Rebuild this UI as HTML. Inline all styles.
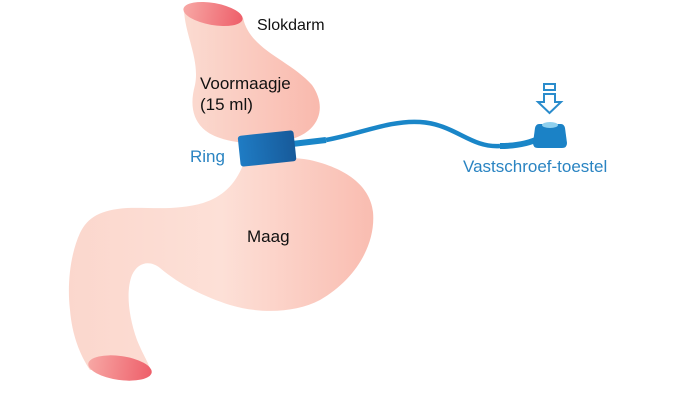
<!DOCTYPE html>
<html><head><style>body{margin:0;background:#fff}svg{display:block}text{font-family:"Liberation Sans",sans-serif}</style></head><body>
<svg width="680" height="400" viewBox="0 0 680 400">
<defs>
<linearGradient id="sk" x1="0" y1="0" x2="1" y2="0"><stop offset="0" stop-color="#fbdbd1"/><stop offset="1" stop-color="#f9b9ad"/></linearGradient>
<linearGradient id="sk2" gradientUnits="userSpaceOnUse" x1="68" y1="0" x2="375" y2="0"><stop offset="0" stop-color="#fbd7cd"/><stop offset="0.5" stop-color="#fde0d7"/><stop offset="1" stop-color="#f9bcb0"/></linearGradient>
<linearGradient id="op" x1="0" y1="0" x2="1" y2="0"><stop offset="0" stop-color="#f7a7a4"/><stop offset="1" stop-color="#ee5f6a"/></linearGradient>
<linearGradient id="rg" x1="0" y1="0" x2="1" y2="0"><stop offset="0" stop-color="#1f7cc4"/><stop offset="1" stop-color="#175a9a"/></linearGradient>
</defs>
<!-- stomach -->
<path d="M243 165 C265 158 290 156 310 160 C345 168 370 185 373 212 C376 245 355 280 320 300 C295 313 260 314 230 305 C205 297 180 285 160 268 C150 260 138 262 132 275 C126 290 128 315 137 340 C143 355 150 365 150 370 L90 370 C80 355 72 335 70 310 C67 285 70 255 80 233 C88 217 100 210 127 208 C150 207 175 211 203 203 C222 197 235 185 243 165 Z" fill="url(#sk2)"/>
<ellipse cx="120" cy="368" rx="32" ry="12" transform="rotate(8 120 368)" fill="url(#op)"/>
<!-- upper pouch -->
<path d="M184 10 C200 2 240 8 243 18 C250 50 290 60 312 85 C328 108 318 130 295 138 C270 145 240 145 220 138 C195 130 188 110 195 85 C200 60 185 35 184 10 Z" fill="url(#sk)"/>
<ellipse cx="213" cy="14" rx="30" ry="11" transform="rotate(10 213 14)" fill="url(#op)"/>
<!-- cable -->
<path d="M292 144 L326 140" stroke="#1a86c8" stroke-width="6" fill="none"/>
<path d="M326 140 C360 134 390 120 420 122 C455 124 470 148 500 146" fill="none" stroke="#1a86c8" stroke-width="4.5"/>
<path d="M500 146 C515 146 528 144 540 138" fill="none" stroke="#1a86c8" stroke-width="6"/>
<!-- ring -->
<rect x="239" y="133" width="56" height="31" rx="3" transform="rotate(-6 267 148)" fill="url(#rg)"/>
<!-- device -->
<path d="M539 124 L561 124 Q564 124 565 128 L567 143 Q567 148 562 148 L538 148 Q533 148 533 143 L535 128 Q536 124 539 124 Z" fill="#1b82c6"/>
<ellipse cx="550" cy="125" rx="8" ry="3" fill="#8fd0ee"/>
<path d="M544 84 h11 v6 h-11 z" fill="none" stroke="#2a8ccc" stroke-width="2"/>
<path d="M544 94 h11 v8 h6 l-11.5 11 l-11.5 -11 h6 z" fill="none" stroke="#2a8ccc" stroke-width="2"/>
<text x="257" y="30" font-size="16" fill="#111">Slokdarm</text>
<text x="200" y="89" font-size="17" fill="#111">Voormaagje</text>
<text x="200" y="110" font-size="17" fill="#111">(15 ml)</text>
<text x="190" y="162" font-size="17" fill="#2a84c2">Ring</text>
<text x="247" y="242" font-size="17" fill="#111">Maag</text>
<text x="463" y="172" font-size="17" fill="#2a84c2">Vastschroef-toestel</text>
</svg>
</body></html>
